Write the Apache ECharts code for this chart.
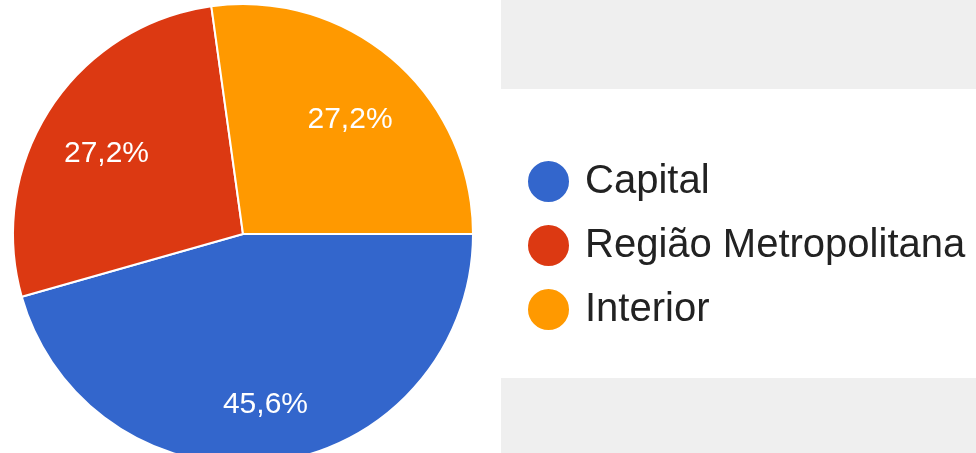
<!DOCTYPE html>
<html>
<head>
<meta charset="utf-8">
<title>Pie</title>
<script src="https://cdn.jsdelivr.net/npm/echarts@6/dist/echarts.min.js"></script>
<style>
html, body { margin: 0; padding: 0; background: #fff; }
#main { width: 976px; height: 453px; }
</style>
</head>
<body>
<div id="main"></div>
<script>
// categories and values
var categories = ['Capital', 'Região Metropolitana', 'Interior'];
var values = [45.6, 27.2, 27.2];
var colors = ['#3366cc', '#dc3912', '#ff9900'];

var pieData = categories.map(function (name, i) {
    return { name: name, value: values[i], itemStyle: { color: colors[i] } };
});
// same values, no fill, only for the labels
var labelData = categories.map(function (name, i) {
    return { name: name, value: values[i] };
});

function fmt(p) {
    return p.value.toFixed(1).replace('.', ',') + '%';
}

var font = '"Liberation Sans", Arial, sans-serif';

var chart = echarts.init(document.getElementById('main'));
chart.setOption({
    animation: false,
    graphic: [
        { type: 'rect', shape: { x: 501, y: 0, width: 475, height: 89 }, style: { fill: '#efefef' }, z: -10 },
        { type: 'rect', shape: { x: 501, y: 378, width: 475, height: 75 }, style: { fill: '#efefef' }, z: -10 }
    ],
    legend: {
        orient: 'vertical',
        left: 521,
        top: 154,
        itemWidth: 43,
        itemHeight: 43,
        itemGap: 19,
        icon: 'circle',
        selectedMode: false,
        data: categories,
        textStyle: {
            fontFamily: font,
            fontSize: 40,
            lineHeight: 43,
            color: '#222',
            padding: [0, 0, 0, 10]
        }
    },
    series: [
        {
            type: 'pie',
            center: [243, 234],
            radius: [0, 230],
            startAngle: 0,
            clockwise: true,
            data: pieData,
            itemStyle: { borderColor: '#fff', borderWidth: 2 },
            label: { show: false },
            labelLine: { show: false },
            emphasis: { disabled: true }
        },
        {
            // transparent ring used only to place the labels further out
            type: 'pie',
            center: [243, 234],
            radius: [90, 230],
            startAngle: 0,
            clockwise: true,
            silent: true,
            data: labelData,
            itemStyle: { color: 'rgba(0,0,0,0)', borderWidth: 0 },
            label: {
                show: true,
                position: 'inside',
                formatter: fmt,
                color: '#fff',
                fontFamily: font,
                fontSize: 30,
                offset: [0, 9]
            },
            labelLine: { show: false },
            emphasis: { disabled: true }
        }
    ]
});
</script>
</body>
</html>
